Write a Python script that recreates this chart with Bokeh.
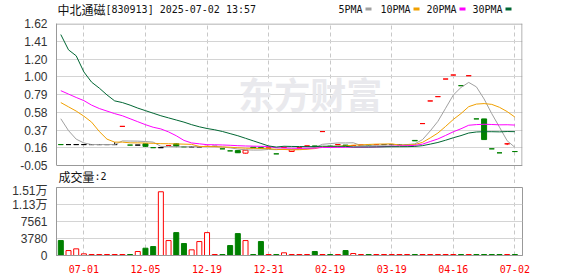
import numpy as np
from bokeh.plotting import figure
from bokeh.models import Range1d, FixedTicker, CustomJSTickFormatter, ColumnDataSource
from bokeh.layouts import column
from bokeh.core.properties import value
from bokeh.embed import file_html
from bokeh.resources import INLINE

# ---------------- data ----------------
title_name = "中北通磁"
title_rest = "[830913] 2025-07-02 13:57"
legend_names = ["5PMA", "10PMA", "20PMA", "30PMA"]
ma_periods = [5, 10, 20, 30]
volume_title = "成交量"
last_volume = "2"

tick_idx = [3, 11, 19, 27, 35, 43, 51, 59]
tick_labels = ["07-01", "12-05", "12-19", "12-31", "02-19", "03-19", "04-16", "07-02"]

price_labels = ["-0.05", "0.16", "0.37", "0.58", "0.79", "1.00", "1.20", "1.41", "1.62"]
price_min, price_max = -0.05, 1.62
vol_labels = ["0", "3780", "7561", "1.13万", "1.51万"]
vol_max = 15122

prev_close = 0.20
opens = [0.196, 0.196, 0.196, 0.196, 0.196, 0.196, 0.196, 0.196, 0.41, 0.19,
         0.19, 0.205, 0.16, 0.16, 0.185, 0.205, 0.17, 0.17, 0.17, 0.175,
         0.175, 0.146, 0.122, 0.125, 0.095, 0.165, 0.16, 0.155, 0.087, 0.162,
         0.115, 0.158, 0.18, 0.18, 0.349, 0.176, 0.196, 0.19, 0.185, 0.19,
         0.19, 0.196, 0.196, 0.196, 0.196, 0.196, 0.245, 0.443, 0.709, 0.76,
         0.967, 1.014, 0.889, 1.006, 0.498, 0.498, 0.146, 0.099, 0.205, 0.114]
closes = [0.196, 0.196, 0.196, 0.196, 0.196, 0.196, 0.196, 0.196, 0.41, 0.19,
          0.19, 0.175, 0.16, 0.16, 0.185, 0.175, 0.17, 0.17, 0.17, 0.175,
          0.175, 0.146, 0.122, 0.10, 0.13, 0.158, 0.15, 0.155, 0.087, 0.162,
          0.135, 0.158, 0.18, 0.175, 0.349, 0.176, 0.196, 0.18, 0.185, 0.19,
          0.185, 0.196, 0.196, 0.196, 0.196, 0.196, 0.24, 0.443, 0.709, 0.76,
          0.967, 1.014, 0.889, 1.006, 0.498, 0.255, 0.146, 0.099, 0.205, 0.114]
highs = [0.196, 0.196, 0.196, 0.196, 0.196, 0.196, 0.196, 0.225, 0.41, 0.19,
         0.19, 0.205, 0.16, 0.16, 0.185, 0.21, 0.17, 0.17, 0.17, 0.175,
         0.175, 0.146, 0.122, 0.125, 0.13, 0.165, 0.16, 0.155, 0.087, 0.162,
         0.135, 0.158, 0.18, 0.18, 0.349, 0.176, 0.196, 0.19, 0.185, 0.19,
         0.19, 0.196, 0.196, 0.196, 0.196, 0.196, 0.245, 0.443, 0.709, 0.76,
         0.967, 1.014, 0.889, 1.006, 0.498, 0.498, 0.146, 0.099, 0.215, 0.114]
lows = [0.196, 0.196, 0.196, 0.196, 0.196, 0.196, 0.196, 0.196, 0.41, 0.19,
        0.19, 0.17, 0.16, 0.16, 0.185, 0.165, 0.17, 0.17, 0.17, 0.175,
        0.175, 0.146, 0.122, 0.10, 0.09, 0.158, 0.15, 0.155, 0.087, 0.162,
        0.113, 0.158, 0.18, 0.175, 0.349, 0.176, 0.196, 0.18, 0.185, 0.19,
        0.185, 0.196, 0.196, 0.196, 0.196, 0.196, 0.24, 0.443, 0.709, 0.76,
        0.967, 1.014, 0.889, 1.006, 0.498, 0.255, 0.146, 0.099, 0.19, 0.114]
volumes = [3320, 1100, 1480, 370, 40, 30, 30, 40, 50, 40,
           890, 1620, 1990, 14170, 3320, 5090, 2660, 1260, 3100, 5090,
           40, 30, 2210, 4870, 3320, 40, 3100, 40, 30, 600,
           40, 30, 40, 890, 40, 30, 40, 1100, 440, 30,
           30, 40, 30, 30, 40, 30, 40, 30, 40, 30,
           40, 30, 30, 40, 30, 40, 30, 30, 20, 2]

# moving-average values for bars whose window starts before the first bar
ma_heads = {
    5: [0.50, 0.36, 0.26, 0.215],
    10: [0.69, 0.64, 0.59, 0.53, 0.46, 0.35, 0.26, 0.225, 0.225],
    20: [0.83, 0.79, 0.75, 0.713, 0.66, 0.62, 0.59, 0.56, 0.535, 0.50,
         0.465, 0.43, 0.40, 0.38, 0.345, 0.30, 0.245, 0.215, 0.205],
    30: [1.49, 1.31, 1.24, 1.05, 0.93, 0.86, 0.78, 0.71, 0.69, 0.66,
         0.625, 0.595, 0.565, 0.535, 0.51, 0.485, 0.46, 0.43, 0.405, 0.385,
         0.37, 0.35, 0.325, 0.30, 0.27, 0.24, 0.21, 0.18, 0.167],
}

# ---------------- styles ----------------
W = 578
HDR_H = 16
PRICE_TOP, PRICE_BOT = 23, 165        # page rows of the price panel's frame
MAIN_BOT = 183                        # main figure (price panel + caption strip) ends here
VOL_TOP, VOL_BOT = 187, 255           # page rows of the volume frame
CAP_ROW = 175.5                       # page row of the volume caption
MAIN_H = MAIN_BOT - HDR_H
VOL_H = 276 - MAIN_BOT
LEFT, RIGHT = 56, 56
RED, GREEN, BLACK = "#ff0000", "#008000", "#000000"
ma_colors = ["#a0a0a0", "#f0a000", "#ff00ff", "#006633"]
GRID_H = "#d4d4d4"
GRID_V = "#c8c8c8"
FRAME = "#999999"
CJK = "Noto Sans CJK SC"
MONO = "DejaVu Sans Mono"
NUM = "Liberation Sans"
TXT = "#111111"

n = len(closes)
idx = np.arange(n)
x_lo, x_hi = -0.56, 59.99
x_range = Range1d(x_lo, x_hi)
bar_px = (W - LEFT - RIGHT) / (x_hi - x_lo)
price_px = (PRICE_BOT - PRICE_TOP) / (price_max - price_min)
y_lo = price_min - (MAIN_BOT - PRICE_BOT) / price_px

# candle colours
colors, fills = [], []
for i in range(n):
    o, c = opens[i], closes[i]
    pc = prev_close if i == 0 else closes[i - 1]
    if c > o:
        col, fill = RED, "#ffffff"
    elif c < o:
        col, fill = GREEN, GREEN
    else:
        col = RED if c > pc else (GREEN if c < pc else BLACK)
        fill = col
    colors.append(col)
    fills.append(fill)

vol_colors = [GREEN if col == GREEN else RED for col in colors]
vol_fills = [GREEN if col == GREEN else "#ffffff" for col in colors]
min_vol_draw = vol_max / (VOL_BOT - VOL_TOP)  # one pixel, so tiny volumes stay visible
vol_draw = [max(v, min_vol_draw) for v in volumes]

mas = {}
for k in ma_periods:
    vals = []
    for i in range(n):
        if i >= k - 1:
            vals.append(float(np.mean(closes[i - k + 1:i + 1])))
        else:
            vals.append(ma_heads[k][i])
    mas[k] = vals


def lookup_formatter(tv, tl):
    return CustomJSTickFormatter(args=dict(tvals=[float(t) for t in tv], tlabels=list(tl)), code="""
        let best = 0, bd = 1e99;
        for (let i = 0; i < tvals.length; i++) {
            const d = Math.abs(tvals[i] - tick);
            if (d < bd) { bd = d; best = i; }
        }
        return tlabels[best];
    """)


# ---------------- header (data units = page pixels) ----------------
hdr = figure(width=W, height=HDR_H, x_range=Range1d(LEFT, W - RIGHT), y_range=Range1d(HDR_H, 0),
             toolbar_location=None, output_backend="svg",
             min_border_left=LEFT, min_border_right=RIGHT, min_border_top=0, min_border_bottom=0,
             x_axis_location=None, y_axis_location=None, outline_line_color=None)
hdr.xgrid.visible = False
hdr.ygrid.visible = False
hdr.text(x=[57], y=[8.5], text=[title_name], text_font=value(CJK), text_font_size="12px",
         text_baseline="middle", text_color=TXT)
hdr.text(x=[105], y=[8.5], text=[title_rest], text_font=value(MONO), text_font_size="10px",
         text_baseline="middle", text_color=TXT)
leg_x = [338, 380, 426, 472]
sq_x = [368, 416, 462, 508]
hdr.text(x=leg_x, y=[8.5] * 4, text=legend_names, text_font=value(MONO), text_font_size="10px",
         text_baseline="middle", text_color=TXT)
hdr.rect(x=sq_x, y=[8.5] * 4, width=6, height=3, fill_color=ma_colors, line_color=None)

# ---------------- main price chart (frame extended down to hold the volume caption) ----------------
p = figure(width=W, height=MAIN_H, x_range=x_range, y_range=Range1d(y_lo, price_max),
           toolbar_location=None, output_backend="svg", x_axis_location=None,
           min_border_top=PRICE_TOP - HDR_H, min_border_bottom=0,
           min_border_left=LEFT, min_border_right=RIGHT)
p.outline_line_color = None
p.background_fill_color = "#ffffff"
price_ticks = [float(t) for t in np.linspace(price_min, price_max, len(price_labels))]
p.yaxis.ticker = FixedTicker(ticks=price_ticks)
p.yaxis.formatter = lookup_formatter(price_ticks, price_labels)
p.yaxis.bounds = (price_min, price_max)
p.yaxis.axis_line_color = FRAME
p.yaxis.major_tick_line_color = None
p.yaxis.minor_tick_line_color = None
p.yaxis.major_label_standoff = 3
p.yaxis.major_label_text_font = NUM
p.yaxis.major_label_text_font_size = "12px"
p.yaxis.major_label_text_color = "#333333"
p.ygrid.ticker = FixedTicker(ticks=price_ticks[1:-1])
p.ygrid.grid_line_color = GRID_H
p.xgrid.ticker = FixedTicker(ticks=tick_idx)
p.xgrid.bounds = (price_min, price_max)
p.xgrid.grid_line_color = GRID_V
p.xgrid.grid_line_dash = "4 3"

# frame borders of the price panel
half_x = 0.5 / bar_px
half_y = 0.5 / price_px
p.segment(x0=[x_lo, x_lo, x_hi - half_x], y0=[price_max - half_y, price_min, price_min],
          x1=[x_hi, x_hi, x_hi - half_x], y1=[price_max - half_y, price_min, price_max],
          line_color=FRAME, line_width=1)

# watermark
p.text(x=[32.4], y=[0.80], text=["东方财富"], text_font=value(CJK), text_font_size="36px",
       text_font_style="bold", text_align="center", text_baseline="middle", text_color="#e9e9ed")

src = ColumnDataSource(dict(x=idx, o=opens, c=closes, h=highs, l=lows,
                            top=[max(a, b) for a, b in zip(opens, closes)],
                            bot=[min(a, b) for a, b in zip(opens, closes)],
                            col=colors, fill=fills))
p.segment(x0="x", y0="l", x1="x", y1="h", line_color="col", line_width=1, source=src)
p.vbar(x="x", width=0.65, top="top", bottom="bot", fill_color="fill", line_color="col",
       line_width=1, source=src)

for k, colr in zip(ma_periods, ma_colors):
    p.line(x=idx, y=mas[k], line_color=colr, line_width=1)

# caption "成交量:2" in the strip under the price panel
cap_y = price_max - (CAP_ROW - PRICE_TOP) / price_px
cap_x = x_lo + 2.0 / bar_px
p.text(x=[cap_x], y=[cap_y], text=[volume_title], text_font=value(CJK), text_font_size="12px",
       text_baseline="middle", text_color=TXT)
p.text(x=[cap_x + 36.0 / bar_px], y=[cap_y], text=[":" + last_volume], text_font=value(MONO),
       text_font_size="10px", text_baseline="middle", text_color=TXT)

# ---------------- volume chart ----------------
vp = figure(width=W, height=VOL_H, x_range=x_range, y_range=Range1d(0, vol_max),
            toolbar_location=None, output_backend="svg",
            min_border_top=VOL_TOP - MAIN_BOT, min_border_bottom=276 - VOL_BOT,
            min_border_left=LEFT, min_border_right=RIGHT)
vp.outline_line_color = FRAME
vol_ticks = [float(t) for t in np.linspace(0, vol_max, len(vol_labels))]
vp.yaxis.ticker = FixedTicker(ticks=vol_ticks)
vp.yaxis.formatter = lookup_formatter(vol_ticks, vol_labels)
vp.yaxis.axis_line_color = FRAME
vp.yaxis.major_tick_line_color = None
vp.yaxis.minor_tick_line_color = None
vp.yaxis.major_label_standoff = 3
vp.yaxis.major_label_text_font = NUM + ", " + CJK
vp.yaxis.major_label_text_font_size = "12px"
vp.yaxis.major_label_text_color = "#333333"
vp.xaxis.ticker = FixedTicker(ticks=tick_idx)
vp.xaxis.formatter = lookup_formatter(tick_idx, tick_labels)
vp.xaxis.axis_line_color = FRAME
vp.xaxis.major_tick_line_color = None
vp.xaxis.minor_tick_line_color = None
vp.xaxis.major_label_standoff = 3
vp.xaxis.major_label_text_font = MONO
vp.xaxis.major_label_text_font_size = "10px"
vp.xaxis.major_label_text_color = RED
vp.ygrid.ticker = FixedTicker(ticks=vol_ticks[1:-1])
vp.ygrid.grid_line_color = GRID_H
vp.xgrid.ticker = FixedTicker(ticks=tick_idx)
vp.xgrid.grid_line_color = GRID_V
vp.xgrid.grid_line_dash = "4 3"

vsrc = ColumnDataSource(dict(x=idx, v=vol_draw, col=vol_colors, fill=vol_fills))
vp.vbar(x="x", width=0.65, top="v", bottom=0, fill_color="fill", line_color="col",
        line_width=1, source=vsrc)

layout = column(hdr, p, vp, spacing=0)
open("out.html", "w").write(file_html(layout, INLINE))
